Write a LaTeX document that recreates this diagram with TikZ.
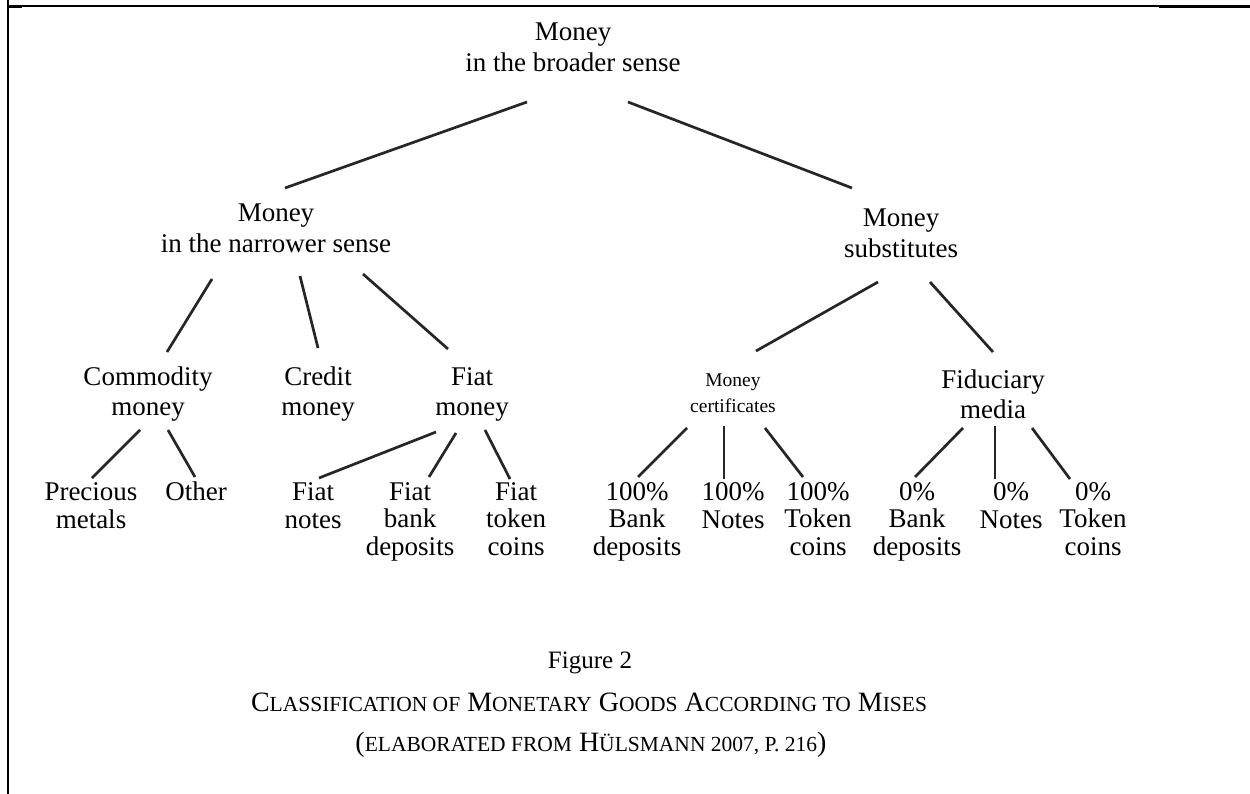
\documentclass[tikz,border=0pt]{standalone}
\usepackage{fontspec}
\setmainfont{Liberation Serif}
\newcommand\fsc[1]{{\fontsize{21.5}{21.5}\selectfont #1}}
\begin{document}
\begin{tikzpicture}[x=1pt,y=-1pt,
  lbl/.style={anchor=base,align=center,inner sep=0pt,font=\fontsize{27}{31}\selectfont},
  lblb/.style={anchor=base,align=center,inner sep=0pt,font=\fontsize{27}{27.5}\selectfont},
  lbls/.style={anchor=base,align=center,inner sep=0pt,font=\fontsize{19.5}{25.5}\selectfont},
  captext/.style={anchor=base,inner sep=0pt,font=\fontsize{28}{28}\selectfont},
  conn/.style={line width=2.7pt,draw=black!85},
  frame/.style={draw=black}]
\useasboundingbox (0,0) rectangle (1250,794);
% frame lines
\draw[frame,line width=1.8pt] (8,0) -- (8,794);
\draw[frame,line width=1.3pt] (8,6) -- (1159,6);
\draw[frame,line width=2.7pt] (1159,6.7) -- (1250,6.7);
\draw[frame,line width=2pt] (8,7) -- (22,7);
% nodes (anchor=base is the baseline of the last line)
\node[lbl] (root) at (573,72) {Money\\in the broader sense};
\node[lbl] (narrow) at (276,253) {Money\\in the narrower sense};
\node[lbl] (subs) at (901,258) {Money\\substitutes};
\node[lbl,font=\fontsize{27}{30}\selectfont] (comm) at (148,415) {Commodity\\money};
\node[lbl,font=\fontsize{27}{30}\selectfont] (credit) at (318,415) {Credit\\money};
\node[lbl,font=\fontsize{27}{30}\selectfont] (fiat) at (472,415) {Fiat\\money};
\node[lbls] (cert) at (733,412) {Money\\certificates};
\node[lbl,font=\fontsize{27}{30}\selectfont] (fid) at (993,418) {Fiduciary\\media};
\node[lblb] (prec) at (91,528) {Precious\\metals};
\node[lblb] (other) at (196,500) {Other};
\node[lblb] (fnotes) at (313,528) {Fiat\\notes};
\node[lblb] (fbank) at (410,555) {Fiat\\bank\\deposits};
\node[lblb] (ftoken) at (516,555) {Fiat\\token\\coins};
\node[lblb] (cbank) at (637,555) {100\%\\Bank\\deposits};
\node[lblb] (cnotes) at (733,528) {100\%\\Notes};
\node[lblb] (ctoken) at (818,555) {100\%\\Token\\coins};
\node[lblb] (zbank) at (917,555) {0\%\\Bank\\deposits};
\node[lblb] (znotes) at (1011,528) {0\%\\Notes};
\node[lblb] (ztoken) at (1093,555) {0\%\\Token\\coins};
% caption
\node[anchor=base,inner sep=0pt,font=\fontsize{25}{25}\selectfont] (fig) at (590,668) {Figure 2};
\node[captext] (cls) at (589,711)
  {C\fsc{LASSIFICATION OF} M\fsc{ONETARY} G\fsc{OODS} A\fsc{CCORDING TO} M\fsc{ISES}};
\node[captext] (elab) at (591,751)
  {(\fsc{ELABORATED FROM} H\fsc{ÜLSMANN 2007, P. 216})};
% connectors
\draw[conn] ([shift={(-46,30)}]root.base) -- ([shift={(9,-65)}]narrow.base);
\draw[conn] ([shift={(55,30)}]root.base) -- ([shift={(-49,-70)}]subs.base);
\draw[conn] ([shift={(-64,26)}]narrow.base) -- ([shift={(19,-63)}]comm.base);
\draw[conn] ([shift={(24,23)}]narrow.base) -- ([shift={(0,-67)}]credit.base);
\draw[conn] ([shift={(87,21)}]narrow.base) -- ([shift={(-24,-66)}]fiat.base);
\draw[conn] ([shift={(-23,24)}]subs.base) -- ([shift={(23,-61)}]cert.base);
\draw[conn] ([shift={(29,24)}]subs.base) -- ([shift={(0,-66)}]fid.base);
\draw[conn] ([shift={(-8,15)}]comm.base) -- ([shift={(1,-50)}]prec.base);
\draw[conn] ([shift={(20,15)}]comm.base) -- ([shift={(-1,-23)}]other.base);
\draw[conn] ([shift={(-36,17)}]fiat.base) -- ([shift={(6,-50)}]fnotes.base);
\draw[conn] ([shift={(-16,18)}]fiat.base) -- ([shift={(19,-78)}]fbank.base);
\draw[conn] ([shift={(13,15)}]fiat.base) -- ([shift={(-6,-76)}]ftoken.base);
\draw[conn] ([shift={(-46,16)}]cert.base) -- ([shift={(1,-78)}]cbank.base);
\draw[conn] ([shift={(-9,14)}]cert.base) -- ([shift={(-9,-49)}]cnotes.base);
\draw[conn] ([shift={(32,16)}]cert.base) -- ([shift={(-15,-78)}]ctoken.base);
\draw[conn] ([shift={(-30,10)}]fid.base) -- ([shift={(-2,-78)}]zbank.base);
\draw[conn] ([shift={(2,8)}]fid.base) -- ([shift={(-16,-49)}]znotes.base);
\draw[conn] ([shift={(39,10)}]fid.base) -- ([shift={(-23,-76)}]ztoken.base);
\end{tikzpicture}
\end{document}
